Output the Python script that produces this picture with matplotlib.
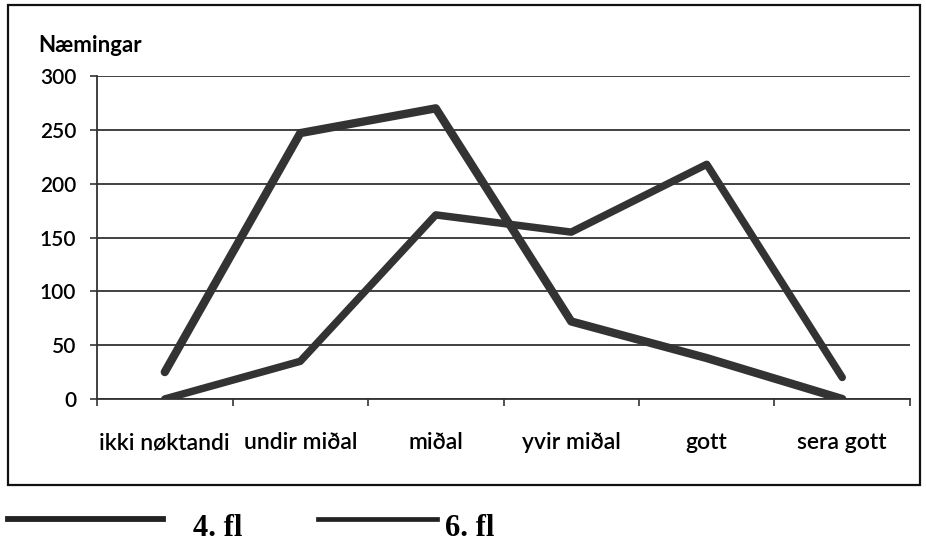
import matplotlib.pyplot as plt
from matplotlib.lines import Line2D
from matplotlib.patches import Rectangle
import numpy as np

categories = ["ikki nøktandi", "undir miðal", "miðal", "yvir miðal", "gott", "sera gott"]
fl4 = [25, 247, 270, 72, 38, 0]
fl6 = [0, 35, 171, 155, 218, 20]
series_names = ["4. fl", "6. fl"]
y_ticks = [0, 50, 100, 150, 200, 250, 300]

line_color = "#333333"
plt.rcParams["font.family"] = ["Lato", "DejaVu Sans"]

fig = plt.figure(figsize=(9.26, 5.47), dpi=100)
ax = fig.add_axes([0.1048, 0.2706, 0.8779, 0.5904])

x = np.arange(len(categories))
ax.plot(x, fl4, color=line_color, lw=6.0, solid_capstyle="round", solid_joinstyle="round", zorder=3)
ax.plot(x, fl6, color=line_color, lw=5.4, solid_capstyle="round", solid_joinstyle="round", zorder=3)

ax.set_xlim(-0.5, len(categories) - 0.5)
ax.set_ylim(0, 300)
ax.set_yticks(y_ticks)
ax.set_yticklabels([str(v) for v in y_ticks], fontsize=15, fontweight="semibold")
ax.yaxis.grid(True, color="#333333", lw=1.3)
ax.set_axisbelow(True)

ax.set_xticks(x)
ax.set_xticklabels(categories, fontsize=16.5, fontweight="semibold")
ax.set_xticks(np.arange(-0.5, len(categories)), minor=True)
ax.tick_params(axis="x", which="major", length=0, pad=24)
ax.tick_params(axis="x", which="minor", length=5, width=1.2, color="#333333", direction="out")
ax.tick_params(axis="y", length=5, width=1.2, color="#333333", pad=10)

for side in ["top", "right"]:
    ax.spines[side].set_visible(False)
for side in ["left", "bottom"]:
    ax.spines[side].set_color("#333333")
    ax.spines[side].set_linewidth(1.3)

fig.text(38 / 926, 1 - 45 / 547, "Næmingar", fontsize=16, fontweight="bold", va="center", ha="left")

# outer frame
fig.patches.append(Rectangle((8 / 926, 1 - 485 / 547), 912 / 926, 480 / 547, transform=fig.transFigure,
                             fill=False, edgecolor="#111111", lw=1.6))

# legend below the frame
legend_y = 1 - 519 / 547
fig.add_artist(Line2D([8 / 926, 163 / 926], [legend_y, legend_y], color="#222222", lw=4.2,
                      transform=fig.transFigure))
fig.add_artist(Line2D([318 / 926, 437 / 926], [legend_y, legend_y], color="#222222", lw=3.4,
                      transform=fig.transFigure))
for xpos, name in zip([193 / 926, 445 / 926], series_names):
    fig.text(xpos, 1 - 528 / 547, name, fontsize=22, fontweight="bold", family="Liberation Serif",
             va="center", ha="left")

fig.savefig("out.png", dpi=100)
